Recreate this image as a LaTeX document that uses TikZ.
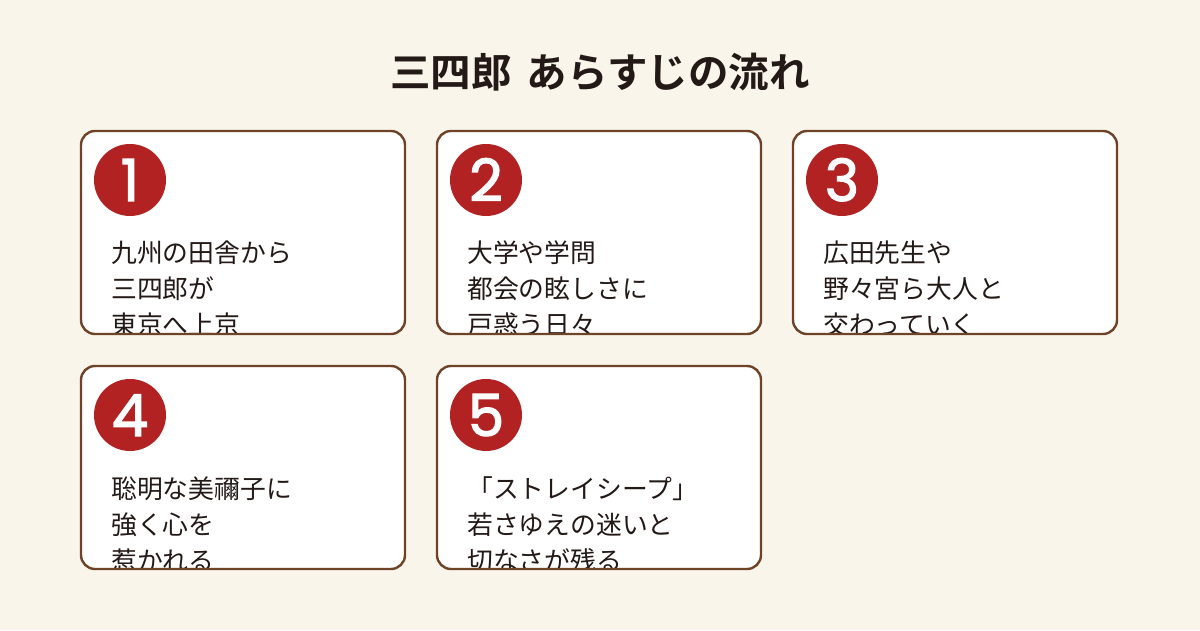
\documentclass[tikz,border=0pt]{standalone}
\usepackage{fontspec}
\setmainfont{Noto Sans CJK JP}
\newfontfamily\jpbold{Noto Sans CJK JP Bold}
\newfontfamily\numfont{Poppins}[FakeBold=2.2]
\definecolor{bgc}{HTML}{FAF5EA}
\definecolor{brd}{HTML}{6E4327}
\definecolor{redc}{HTML}{B22222}
\definecolor{txt}{HTML}{231A17}
\tikzset{
  cardbox/.style={fill=white,rounded corners=14pt},
  cardedge/.style={draw=brd,line width=2.4pt,rounded corners=14pt},
  numdisc/.style={circle,fill=redc,minimum size=72pt,inner sep=0pt},
  numtxt/.style={inner sep=0pt,text=white,font=\numfont\fontsize{58}{58}\selectfont,anchor=base},
  bodytxt/.style={anchor=base west,inner sep=0pt,text=txt,font=\fontsize{25.8}{25.8}\selectfont},
}
\newcommand{\mkcard}[5]{%
  \begin{scope}
    \path[cardbox] (#2,{630-#3}) rectangle ({#2+324},{630-#3-203});
    \clip[rounded corners=14pt] (#2,{630-#3}) rectangle ({#2+324},{630-#3-203});
    \node[numdisc] (#1n) at ({#2+49},{630-#3-49}) {};
    \node[numtxt] (#1d) at ({#2+49},{630-#3-49-21}) {#4};
    #5
  \end{scope}
  \draw[cardedge] (#2,{630-#3}) rectangle ({#2+324},{630-#3-203});
}
\begin{document}
\begin{tikzpicture}[x=1pt,y=1pt]
\fill[bgc] (0,0) rectangle (1200,630);
\useasboundingbox (0,0) rectangle (1200,630);
\node[anchor=base,inner sep=0pt,text=txt,font=\jpbold\fontsize{40.5}{40.5}\selectfont] (title) at (600,{630-88}) {三四郎\hspace{6pt} あらすじの流れ};
\mkcard{c1}{81}{131}{1}{%
  \node[bodytxt] (c1a) at (111,{630-263}) {九州の田舎から};
  \node[bodytxt] (c1b) at (111,{630-299}) {三四郎が};
  \node[bodytxt] (c1c) at (111,{630-335}) {東京へ上京};}
\mkcard{c2}{437}{131}{2}{%
  \node[bodytxt] (c2a) at (467,{630-263}) {大学や学問};
  \node[bodytxt] (c2b) at (467,{630-299}) {都会の眩しさに};
  \node[bodytxt] (c2c) at (467,{630-335}) {戸惑う日々};}
\mkcard{c3}{793}{131}{3}{%
  \node[bodytxt] (c3a) at (823,{630-263}) {広田先生や};
  \node[bodytxt] (c3b) at (823,{630-299}) {野々宮ら大人と};
  \node[bodytxt] (c3c) at (823,{630-335}) {交わっていく};}
\mkcard{c4}{81}{366}{4}{%
  \node[bodytxt] (c4a) at (111,{630-498}) {聡明な美禰子に};
  \node[bodytxt] (c4b) at (111,{630-534}) {強く心を};
  \node[bodytxt] (c4c) at (111,{630-570}) {惹かれる};}
\mkcard{c5}{437}{366}{5}{%
  \node[bodytxt] (c5a) at (467,{630-498}) {「ストレイシープ」};
  \node[bodytxt] (c5b) at (467,{630-534}) {若さゆえの迷いと};
  \node[bodytxt] (c5c) at (467,{630-570}) {切なさが残る};}
\end{tikzpicture}
\end{document}
